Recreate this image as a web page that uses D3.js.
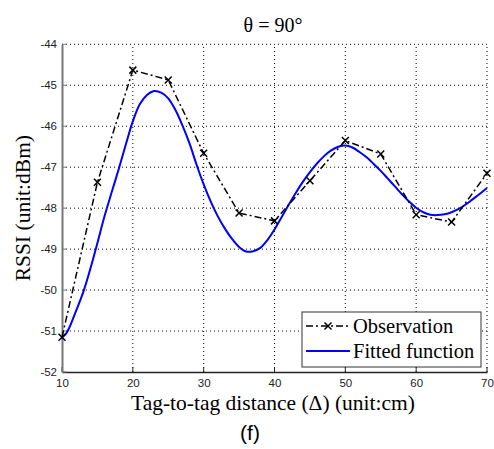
<!DOCTYPE html>
<html>
<head>
<meta charset="utf-8">
<script src="https://cdn.jsdelivr.net/npm/d3@7"></script>
<style>
html,body{margin:0;padding:0;background:#fff;}
svg{display:block;}
</style>
</head>
<body>
<svg id="chart" width="494" height="449"></svg>
<script>
// Observation data
const obsX = [10, 15, 20, 25, 30, 35, 40, 45, 50, 55, 60, 65, 70];
const obsY = [-51.15, -47.37, -44.63, -44.87, -46.66, -48.12, -48.31, -47.33, -46.35, -46.68, -48.16, -48.34, -47.15];

// Fitted function
const fitX = [10, 10.5, 11, 12, 13, 14, 15, 16, 17, 18, 19, 20, 21, 22, 23, 24, 25, 26, 27, 28, 29, 30,
  31, 32, 33, 34, 35, 36, 37, 38, 39, 40, 41, 42, 43, 44, 45, 46, 47, 48, 49, 50,
  51, 52, 53, 54, 55, 56, 57, 58, 59, 60, 61, 62, 63, 64, 65, 66, 67, 68, 69, 70];
const fitY = [-51.15, -51.08, -50.93, -50.50, -50.05, -49.48, -48.85, -48.20, -47.62, -47.05, -46.45, -45.88, -45.46, -45.24, -45.14, -45.18, -45.32, -45.60, -45.98, -46.42, -46.94, -47.42,
  -47.84, -48.20, -48.50, -48.75, -48.95, -49.06, -49.05, -48.97, -48.78, -48.52, -48.22, -47.92, -47.63, -47.36, -47.12, -46.91, -46.73, -46.59, -46.50, -46.47,
  -46.52, -46.63, -46.76, -46.92, -47.09, -47.28, -47.47, -47.66, -47.84, -47.99, -48.10, -48.16, -48.17, -48.15, -48.10, -48.02, -47.91, -47.78, -47.65, -47.51];

const xTicks = [10, 20, 30, 40, 50, 60, 70];
const yTicks = [-52, -51, -50, -49, -48, -47, -46, -45, -44];

const titleText = "θ = 90°";
const xLabel = "Tag-to-tag distance (Δ) (unit:cm)";
const yLabel = "RSSI (unit:dBm)";
const subLabel = "(f)";
const legendNames = ["Observation", "Fitted function"];

const svg = d3.select("#chart");
const L = 62, R = 487, T = 44.3, B = 372;
const x = d3.scaleLinear().domain([10, 70]).range([L, R]);
const y = d3.scaleLinear().domain([-52, -44]).range([B, T]);
const serif = "Liberation Serif, Times New Roman, serif";
const sans = "Liberation Sans, Arial, sans-serif";

// grid
const grid = svg.append("g");
xTicks.forEach(t => {
  if (t === 10) return;
  grid.append("line").attr("x1", x(t)).attr("x2", x(t)).attr("y1", B).attr("y2", T)
    .attr("stroke", "#000").attr("stroke-width", 1).attr("stroke-dasharray", "1,3");
});
yTicks.forEach(t => {
  if (t === -52) return;
  grid.append("line").attr("x1", L).attr("x2", R).attr("y1", y(t)).attr("y2", y(t))
    .attr("stroke", "#000").attr("stroke-width", 1).attr("stroke-dasharray", "1,3");
});

// axes
const xAxis = d3.axisBottom(x).tickValues(xTicks).tickSize(0).tickPadding(7).tickFormat(d => String(d));
const gx = svg.append("g").attr("transform", `translate(0,${B})`).call(xAxis);
gx.select(".domain").attr("stroke", "#222").attr("stroke-width", 1.5);
gx.selectAll(".tick text").attr("font-family", sans).attr("font-size", 11.5).attr("fill", "#222");
xTicks.forEach(t => {
  svg.append("line").attr("x1", x(t)).attr("x2", x(t)).attr("y1", B).attr("y2", B - 5)
    .attr("stroke", "#222").attr("stroke-width", 1);
});

const yAxis = d3.axisLeft(y).tickValues(yTicks).tickSize(0).tickPadding(5).tickFormat(d => String(d));
const gy = svg.append("g").attr("transform", `translate(${L},0)`).call(yAxis);
gy.select(".domain").attr("stroke", "#777").attr("stroke-width", 2);
gy.selectAll(".tick text").attr("font-family", sans).attr("font-size", 11.5).attr("fill", "#222");
yTicks.forEach(t => {
  svg.append("line").attr("x1", L).attr("x2", L + 5).attr("y1", y(t)).attr("y2", y(t))
    .attr("stroke", "#777").attr("stroke-width", 1);
});

// fitted line
const fitData = fitX.map((d, i) => [d, fitY[i]]);
svg.append("path").datum(fitData)
  .attr("d", d3.line().x(d => x(d[0])).y(d => y(d[1])).curve(d3.curveCatmullRom))
  .attr("fill", "none").attr("stroke", "#0000ff").attr("stroke-width", 2);

// observation line
const obsData = obsX.map((d, i) => [d, obsY[i]]);
svg.append("path").datum(obsData)
  .attr("d", d3.line().x(d => x(d[0])).y(d => y(d[1])))
  .attr("fill", "none").attr("stroke", "#000").attr("stroke-width", 1.5)
  .attr("stroke-dasharray", "7,3,2,3");
const mk = 3.5;
svg.append("g").selectAll("path.m").data(obsData).join("path")
  .attr("d", d => {
    const cx = x(d[0]), cy = y(d[1]);
    return `M${cx - mk},${cy - mk}L${cx + mk},${cy + mk}M${cx - mk},${cy + mk}L${cx + mk},${cy - mk}`;
  })
  .attr("stroke", "#000").attr("stroke-width", 1.5);

// title
svg.append("text").attr("x", 273).attr("y", 32).attr("text-anchor", "middle")
  .attr("font-family", serif).attr("font-size", 20).text(titleText);

// axis labels
svg.append("text").attr("x", 273).attr("y", 410).attr("text-anchor", "middle")
  .attr("font-family", serif).attr("font-size", 21.5).text(xLabel);
svg.append("text").attr("transform", `translate(30,${(T + B) / 2}) rotate(-90)`).attr("text-anchor", "middle")
  .attr("font-family", serif).attr("font-size", 21.5).text(yLabel);
svg.append("text").attr("x", 250).attr("y", 440).attr("text-anchor", "middle")
  .attr("font-family", sans).attr("font-size", 21).text(subLabel);

// legend
const lg = svg.append("g");
lg.append("rect").attr("x", 302).attr("y", 312).attr("width", 179).attr("height", 55)
  .attr("fill", "#fff").attr("stroke", "#333").attr("stroke-width", 1);
const ly = [326, 351];
lg.append("line").attr("x1", 306).attr("x2", 350).attr("y1", ly[0]).attr("y2", ly[0])
  .attr("stroke", "#000").attr("stroke-width", 1.5).attr("stroke-dasharray", "7,3,2,3");
lg.append("path").attr("d", `M${328 - mk},${ly[0] - mk}L${328 + mk},${ly[0] + mk}M${328 - mk},${ly[0] + mk}L${328 + mk},${ly[0] - mk}`)
  .attr("stroke", "#000").attr("stroke-width", 1.5);
lg.append("line").attr("x1", 306).attr("x2", 350).attr("y1", ly[1]).attr("y2", ly[1])
  .attr("stroke", "#0000ff").attr("stroke-width", 2);
legendNames.forEach((n, i) => {
  lg.append("text").attr("x", 353).attr("y", ly[i] + 7)
    .attr("font-family", serif).attr("font-size", 20.5).text(n);
});
</script>
</body>
</html>
